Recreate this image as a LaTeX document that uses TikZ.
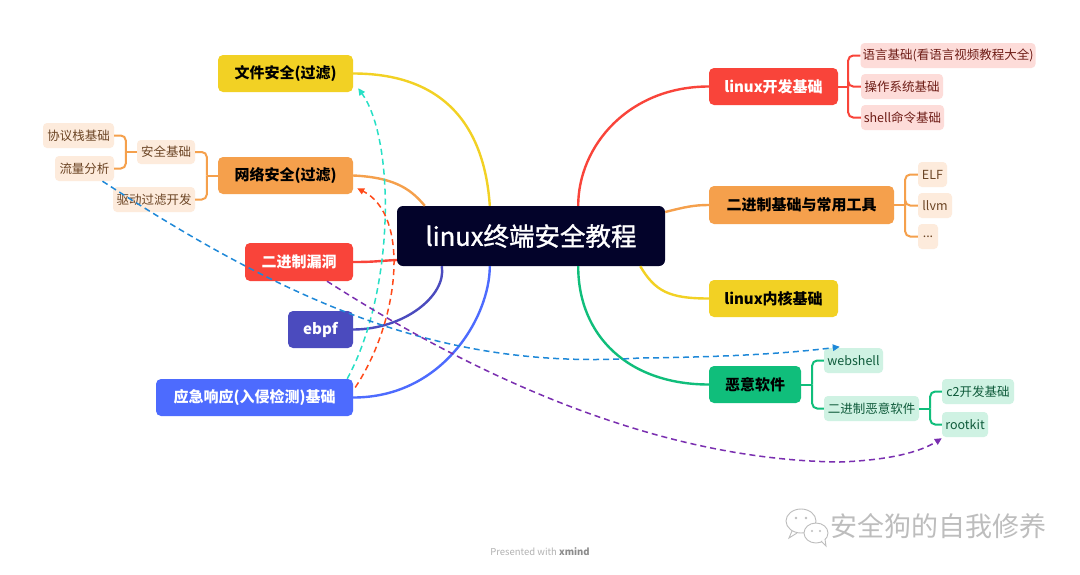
\documentclass[tikz,border=0pt]{standalone}
\usepackage{fontspec}
\setmainfont{Noto Sans CJK SC}
\newfontface\cmed{Noto Sans CJK SC}[FakeBold=1.2]
\usetikzlibrary{arrows.meta,calc}
\definecolor{cYel}{HTML}{F2D124}
\definecolor{cOra}{HTML}{F5A04C}
\definecolor{cRed}{HTML}{F9443A}
\definecolor{cPur}{HTML}{4B4BBE}
\definecolor{cBlu}{HTML}{4D6BFE}
\definecolor{cGrn}{HTML}{10BE7B}
\definecolor{cDark}{HTML}{03032A}
\definecolor{sPink}{HTML}{FDDCD9}
\definecolor{tPink}{HTML}{6E1C16}
\definecolor{sOra}{HTML}{FDEBDC}
\definecolor{tOra}{HTML}{6B4424}
\definecolor{sGrn}{HTML}{CFF2E3}
\definecolor{tGrn}{HTML}{0E5A3A}
\definecolor{dCyan}{HTML}{27E0C6}
\definecolor{dRed}{HTML}{FF4A1A}
\definecolor{dBlue}{HTML}{1E88D8}
\definecolor{dPur}{HTML}{7A2FB0}
\definecolor{wm}{HTML}{BDBDBD}
\begin{document}
\begin{tikzpicture}[x=1pt,y=-1pt,
  mainbox/.style={rounded corners=5pt, minimum height=37pt, inner sep=0pt, anchor=center, font=\fontsize{15}{18}\selectfont\bfseries},
  subbox/.style={rounded corners=4pt, minimum height=25pt, inner sep=0pt, anchor=center, font=\fontsize{12.5}{15}\selectfont},
  pinksub/.style={subbox, fill=sPink, text=tPink},
  orasub/.style={subbox, fill=sOra, text=tOra},
  grnsub/.style={subbox, fill=sGrn, text=tGrn},
  conn/.style={line width=2.4pt},
  brk/.style={line width=2pt, rounded corners=5pt},
  rel/.style={line width=1.5pt, dash pattern=on 6pt off 4pt, -{Triangle[length=7pt,width=6.5pt]}}
]
\fill[white] (0,0) rectangle (1080,574);
\useasboundingbox (0,0) rectangle (1080,574);

% central node
\node[rounded corners=6pt, fill=cDark, text=white, minimum width=268pt, minimum height=60pt, inner sep=0pt, font=\fontsize{25.5}{30}\cmed] (c) at (531,236) {linux终端安全教程};

% left main nodes
\node[mainbox, fill=cYel, text=black, minimum width=135pt] (fa) at (285.5,73.5) {文件安全(过滤)};
\node[mainbox, fill=cOra, text=black, minimum width=135pt] (fw) at (285.5,175.5) {网络安全(过滤)};
\node[mainbox, fill=cRed, text=white, minimum width=108pt, minimum height=38pt] (bl) at (299,262) {二进制漏洞};
\node[mainbox, fill=cPur, text=white, minimum width=65pt] (eb) at (320.5,329.5) {ebpf};
\node[mainbox, fill=cBlu, text=white, minimum width=197pt] (yj) at (254.5,397.5) {应急响应(入侵检测)基础};

% right main nodes
\node[mainbox, fill=cRed, text=white, minimum width=129pt] (ld) at (773.5,86.5) {linux开发基础};
\node[mainbox, fill=cOra, text=black, minimum width=185pt, minimum height=38pt] (bt) at (801.5,205) {二进制基础与常用工具};
\node[mainbox, fill=cYel, text=black, minimum width=129pt] (lk) at (773.5,298.5) {linux内核基础};
\node[mainbox, fill=cGrn, text=black, minimum width=92pt] (ma) at (755,384.5) {恶意软件};

% sub nodes
\node[pinksub, minimum width=175pt] (s1) at (948,55.5) {语言基础(看语言视频教程大全)};
\node[pinksub, minimum width=82pt] (s2) at (902,86.5) {操作系统基础};
\node[pinksub, minimum width=83pt] (s3) at (902.5,117.5) {shell命令基础};
\node[orasub, minimum width=29pt] (e1) at (932.5,174.5) {ELF};
\node[orasub, minimum width=34pt] (e2) at (935,205.5) {llvm};
\node[orasub, minimum width=20pt] (e3) at (928,236.5) {...};
\node[grnsub, minimum width=59pt] (m1) at (853.5,360.5) {webshell};
\node[grnsub, minimum width=95pt] (m2) at (871.5,408.5) {二进制恶意软件};
\node[grnsub, minimum width=72pt] (m3) at (978,391.5) {c2开发基础};
\node[grnsub, minimum width=46pt] (m4) at (965,424.5) {rootkit};
\node[orasub, minimum width=58pt, minimum height=24pt] (n1) at (166,152) {安全基础};
\node[orasub, minimum width=82pt] (n2) at (154,199.5) {驱动过滤开发};
\node[orasub, minimum width=71pt] (n3) at (78.5,135.5) {协议栈基础};
\node[orasub, minimum width=59pt] (n4) at (84.5,168.5) {流量分析};

% main connectors, left
\draw[conn, cYel] (fa.east) .. controls +(95,0) and +(-5,-75) .. ([xshift=93pt]c.north west);
\draw[conn, cOra] (fw.east) .. controls +(45,2) and +(-12,-14) .. ([xshift=28pt]c.north west);
\draw[conn, cRed] (bl.east) .. controls +(22,0) and +(-20,1) .. ([yshift=-24pt]c.west);
\draw[conn, cPur] (eb.east) .. controls +(50,0) and +(5,30) .. ([xshift=45pt]c.south west);
\draw[conn, cBlu] (yj.east) .. controls +(90,0) and +(0,50) .. ([xshift=93pt]c.south west);
% main connectors, right
\draw[conn, cRed] ([xshift=-87pt]c.north east) .. controls +(0,-60) and +(-80,0) .. (ld.west);
\draw[conn, cOra] ([yshift=24pt]c.east) .. controls +(20,-5) and +(-15,0) .. (bt.west);
\draw[conn, cYel] ([xshift=-25pt]c.south east) .. controls +(15,25) and +(-40,0) .. (lk.west);
\draw[conn, cGrn] ([xshift=-87pt]c.south east) .. controls +(0,70) and +(-80,0) .. (ma.west);

% brackets
\draw[brk, cRed] (ld.east) -- ([xshift=10pt]ld.east);
\foreach \t in {s1,s2,s3} \draw[brk, cRed] ([xshift=10pt]ld.east) |- (\t.west);
\draw[brk, cOra] (bt.east) -- ([xshift=11pt]bt.east);
\foreach \t in {e1,e2,e3} \draw[brk, cOra] ([xshift=11pt]bt.east) |- (\t.west);
\draw[brk, cGrn] (ma.east) -- ([xshift=11pt]ma.east);
\foreach \t in {m1,m2} \draw[brk, cGrn] ([xshift=11pt]ma.east) |- (\t.west);
\draw[brk, cGrn] (m2.east) -- ([xshift=11pt]m2.east);
\foreach \t in {m3,m4} \draw[brk, cGrn] ([xshift=11pt]m2.east) |- (\t.west);
\draw[brk, cOra] (fw.west) -- ([xshift=-11pt]fw.west);
\foreach \t in {n1,n2} \draw[brk, cOra] ([xshift=-11pt]fw.west) |- (\t.east);
\draw[brk, cOra] (n1.west) -- ([xshift=-11pt]n1.west);
\foreach \t in {n3,n4} \draw[brk, cOra] ([xshift=-11pt]n1.west) |- (\t.east);

% relationship (dashed) connectors
\draw[rel, dCyan] ([xshift=-6pt]yj.north east) .. controls +(48,-88) and +(37,52) .. ([shift={(5pt,4pt)}]fa.south east);
\draw[rel, dRed] ([shift={(2pt,10pt)}]yj.east) .. controls +(45,-68) and +(53,27) .. ([shift={(4pt,6pt)}]fw.south east);
\draw[rel, dBlue] ([xshift=18pt]n4.south) .. controls (300,310) and (450,370) .. (640,358) .. controls (740,357) and (800,352) .. ([shift={(16pt,1pt)}]m1.north west);
\draw[rel, dPur] ([xshift=28pt]bl.south) .. controls (450,360) and (640,460) .. (840,462) .. controls (890,460) and (920,452) .. ([yshift=-1pt]m4.south west);

% watermark
\begin{scope}[draw=wm, line width=0.9pt]
  \filldraw[fill=white] (801,521) ellipse [x radius=15, y radius=12];
  \draw (792,531) -- (789,538) -- (797,533);
  \fill[wm] (796,518) circle (1.4) (806,518) circle (1.4);
  \filldraw[fill=white] (816,533) ellipse [x radius=12, y radius=10];
  \draw[fill=white] (821,541) -- (826,546) -- (825,539);
  \fill[wm] (812,531) circle (1.2) (820,531) circle (1.2);
\end{scope}
\node[text=wm, font=\fontsize{27}{30}\selectfont, anchor=west, inner sep=0pt] (wmt) at (830,526) {安全狗的自我修养};
\node[text=black!30, font=\fontsize{9.5}{11}\selectfont, inner sep=0pt] (pw) at (540,552) {Presented with {\bfseries\color{black!45}xmind}};
\end{tikzpicture}
\end{document}
